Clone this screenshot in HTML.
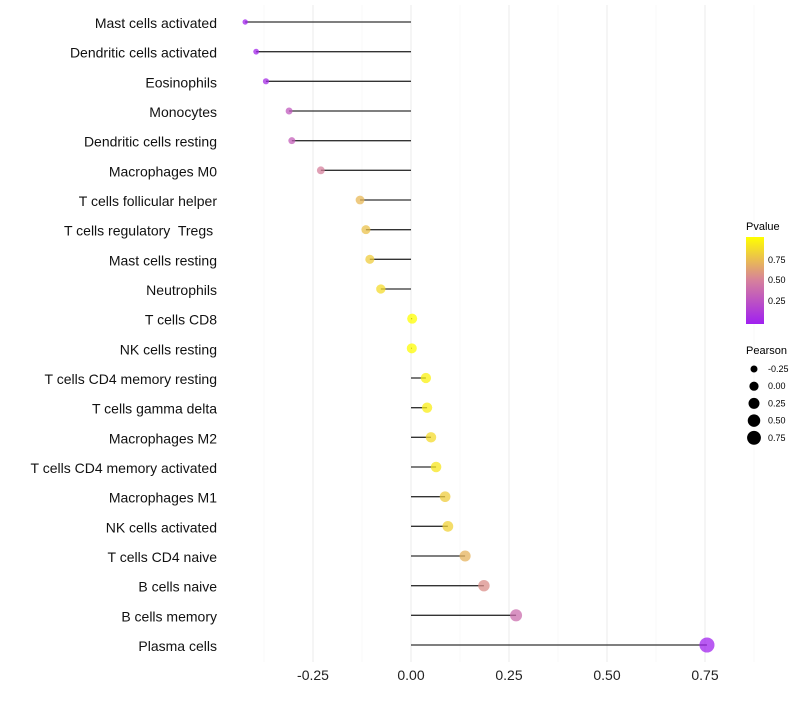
<!DOCTYPE html>
<html><head><meta charset="utf-8"><style>
body{margin:0;background:#fff;font-family:"Liberation Sans",sans-serif}
</style></head><body>
<svg id="chart" width="800" height="700" xmlns="http://www.w3.org/2000/svg">
<g id="grid"></g><g id="marks"></g><g id="ylabels"></g><g id="xticks"></g>
<g id="legend">
<defs><linearGradient id="pg" x1="0" y1="1" x2="0" y2="0">
<stop offset="0" stop-color="#a020f0"/><stop offset="0.5" stop-color="#d6809c"/><stop offset="1" stop-color="#ffff00"/></linearGradient></defs>
<text x="746" y="230" font-size="11">Pvalue</text>
<rect x="746" y="237" width="18" height="87" fill="url(#pg)"/>
<text x="768" y="263" font-size="9">0.75</text>
<text x="768" y="283" font-size="9">0.50</text>
<text x="768" y="304" font-size="9">0.25</text>
<text x="746" y="354" font-size="11">Pearson</text>
<g id="sizelegend"></g>
</g>
</svg>
<script>
const categories=["Mast cells activated","Dendritic cells activated","Eosinophils","Monocytes","Dendritic cells resting","Macrophages M0","T cells follicular helper","T cells regulatory  Tregs ","Mast cells resting","Neutrophils","T cells CD8","NK cells resting","T cells CD4 memory resting","T cells gamma delta","Macrophages M2","T cells CD4 memory activated","Macrophages M1","NK cells activated","T cells CD4 naive","B cells naive","B cells memory","Plasma cells"];
const pearson=[-0.423,-0.395,-0.37,-0.311,-0.304,-0.23,-0.13,-0.115,-0.105,-0.077,0.003,0.002,0.038,0.041,0.051,0.064,0.087,0.094,0.138,0.186,0.268,0.755];
const pvalues=[0.01,0.03,0.06,0.3,0.33,0.5,0.72,0.76,0.8,0.86,1.0,0.99,0.95,0.93,0.86,0.9,0.8,0.82,0.7,0.56,0.4,0.02];
const xTicks=[-0.25,0,0.25,0.5,0.75];
const xTickLabels=["-0.25","0.00","0.25","0.50","0.75"];
const sizeLegend=[-0.25,0,0.25,0.5,0.75];
const sizeLegendLabels=["-0.25","0.00","0.25","0.50","0.75"];
const NS="http://www.w3.org/2000/svg";
const x=v=>411+v*392;
const y=i=>22+i*(623/21);
const r=v=>Math.sqrt(Math.max(4,25+42*v));
function col(p){const s=[[160,32,240],[214,128,156],[255,255,0]];let t=Math.max(0,Math.min(1,p))*2;let i=Math.min(1,Math.floor(t));t-=i;const a=s[i],b=s[i+1];return `rgb(${a.map((c,k)=>Math.round(c+(b[k]-c)*t)).join(',')})`;}
function mk(tag,at,parent){const e=document.createElementNS(NS,tag);for(const k in at)e.setAttribute(k,at[k]);document.getElementById(parent).appendChild(e);return e;}
for(let v=-0.375;v<=0.875;v+=0.125){const major=Math.abs((v*4)%1)<1e-6;const e=mk('line',{x1:x(v),x2:x(v),y1:5,y2:662,stroke:major?'#ebebeb':'#f4f4f4','stroke-width':major?1:0.6},'grid');

}
xTicks.forEach((v,i)=>{const t=mk('text',{x:x(v),y:680,'font-size':14,'text-anchor':'middle',fill:'#222'},'xticks');t.textContent=xTickLabels[i];

});
categories.forEach((c,i)=>{const t=mk('text',{x:217,y:y(i)+6,'font-size':14,'text-anchor':'end',fill:'#111','xml:space':'preserve'},'ylabels');t.style.whiteSpace='pre';t.textContent=c;


const l=mk('line',{x1:x(0),x2:x(pearson[i]),y1:y(i),y2:y(i),stroke:'#333','stroke-width':1.3},'marks');


const d=mk('circle',{cx:x(pearson[i]),cy:y(i),r:r(pearson[i]),fill:col(pvalues[i]),'fill-opacity':0.75},'marks');

});
sizeLegend.forEach((v,i)=>{const cy=369+i*17.2;const c=mk('circle',{cx:754,cy:cy,r:r(v)*0.92,fill:'#000'},'sizelegend');


const t=mk('text',{x:768,y:cy+3,'font-size':9},'sizelegend');t.textContent=sizeLegendLabels[i];

});
</script>
</body></html>
